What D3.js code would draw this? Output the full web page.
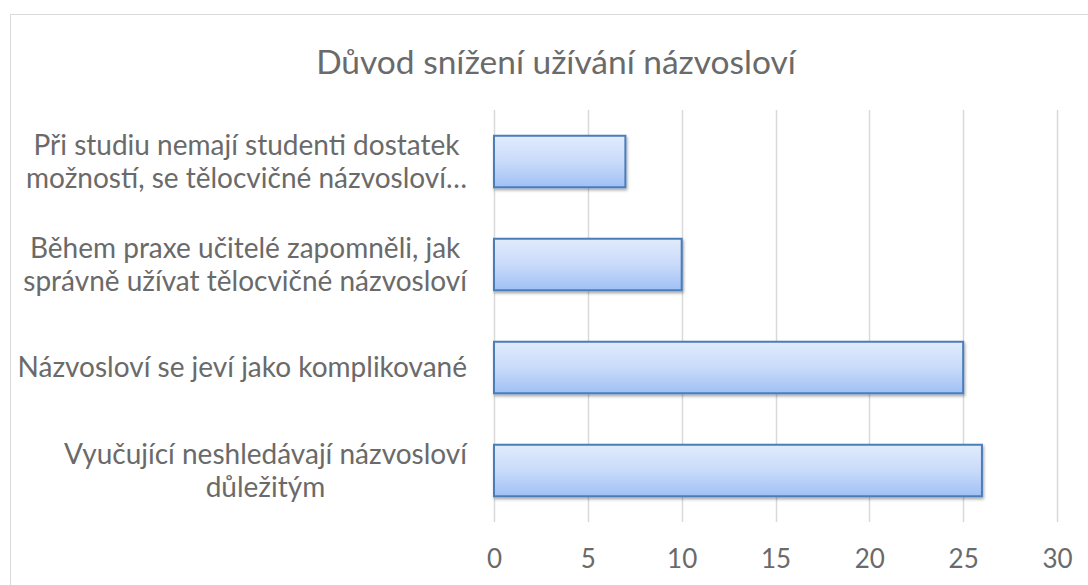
<!DOCTYPE html>
<html>
<head>
<meta charset="utf-8">
<script src="https://cdn.jsdelivr.net/npm/d3@7"></script>
<style>
  body { margin: 0; background: #fff; }
  text { font-family: Lato, "Open Sans", sans-serif; fill: #6a6a6a; }
</style>
</head>
<body>
<div id="chart"></div>
<script>
// Data
const categories = [
  ['Při studiu nemají studenti dostatek', 'možností, se tělocvičné názvosloví…'],
  ['Během praxe učitelé zapomněli, jak', 'správně užívat tělocvičné názvosloví'],
  ['Názvosloví se jeví jako komplikované'],
  ['Vyučující neshledávají názvosloví', 'důležitým']
];
const values = [7, 10, 25, 26];
const xTicks = [0, 5, 10, 15, 20, 25, 30];
const title = 'Důvod snížení užívání názvosloví';

// Dimensions
const width = 1088;
const height = 585;
const plot = { left: 494, right: 1057, top: 110, bottom: 522 };

const svg = d3.select('#chart')
  .append('svg')
  .attr('width', width)
  .attr('height', height);

// Gradient + shadow for bars
const defs = svg.append('defs');
const grad = defs.append('linearGradient')
  .attr('id', 'barGrad')
  .attr('x1', 0).attr('y1', 0).attr('x2', 0).attr('y2', 1);
grad.append('stop').attr('offset', '0%').attr('stop-color', '#e1ebfc');
grad.append('stop').attr('offset', '50%').attr('stop-color', '#c9dbfa');
grad.append('stop').attr('offset', '100%').attr('stop-color', '#a0c0f5');
const filter = defs.append('filter').attr('id', 'shadow')
  .attr('x', '-5%').attr('y', '-10%').attr('width', '115%').attr('height', '130%');
filter.append('feDropShadow')
  .attr('dx', 1).attr('dy', 2).attr('stdDeviation', 1.5)
  .attr('flood-color', '#000').attr('flood-opacity', 0.35);

// Chart border
svg.append('rect')
  .attr('x', 10.5).attr('y', 14.5)
  .attr('width', width).attr('height', height)
  .attr('fill', 'none')
  .attr('stroke', '#d9d9d9')
  .attr('stroke-width', 1);

// Scales
const xScale = d3.scaleLinear()
  .domain([0, 30])
  .range([plot.left, plot.right]);

const yScale = d3.scaleBand()
  .domain(d3.range(categories.length))
  .range([plot.top, plot.bottom])
  .paddingInner(0.5)
  .paddingOuter(0.25);

// Gridlines
svg.append('g')
  .selectAll('line')
  .data(xTicks)
  .enter()
  .append('line')
  .attr('x1', d => Math.round(xScale(d)) + 0.5)
  .attr('x2', d => Math.round(xScale(d)) + 0.5)
  .attr('y1', plot.top)
  .attr('y2', plot.bottom)
  .attr('stroke', '#d9d9d9')
  .attr('stroke-width', 1.5);

// Bars
svg.append('g')
  .selectAll('rect')
  .data(values)
  .enter()
  .append('rect')
  .attr('x', xScale(0))
  .attr('y', (d, i) => yScale(i))
  .attr('width', d => xScale(d) - xScale(0))
  .attr('height', yScale.bandwidth())
  .attr('fill', 'url(#barGrad)')
  .attr('stroke', '#4a7ebb')
  .attr('stroke-width', 2)
  .attr('filter', 'url(#shadow)');

// X-axis tick labels
const xAxis = svg.append('g')
  .attr('transform', `translate(0, ${plot.bottom})`)
  .call(d3.axisBottom(xScale).tickValues(xTicks).tickSize(0).tickPadding(28));
xAxis.select('.domain').remove();
xAxis.selectAll('text')
  .style('font-size', '26px')
  .attr('fill', '#6a6a6a')
  .attr('font-family', null);

// Category labels (centered lines, block right-aligned)
const labelRight = plot.left - 27;
const lineH = 33;
categories.forEach((lines, i) => {
  const g = svg.append('g');
  const cy = yScale(i) + yScale.bandwidth() / 2;
  const t = g.append('text')
    .attr('text-anchor', 'middle')
    .style('font-size', '28px');
  lines.forEach((ln, j) => {
    t.append('tspan')
      .attr('x', 0)
      .attr('y', cy + (j - (lines.length - 1) / 2) * lineH)
      .attr('dy', '0.35em')
      .text(ln);
  });
  let maxW = 0;
  t.selectAll('tspan').each(function() {
    maxW = Math.max(maxW, this.getComputedTextLength());
  });
  t.attr('transform', `translate(${labelRight - maxW / 2}, 0)`);
});

// Title
svg.append('text')
  .attr('x', 556)
  .attr('y', 62)
  .attr('dy', '0.35em')
  .attr('text-anchor', 'middle')
  .style('font-size', '33.5px')
  .text(title);
</script>
</body>
</html>
